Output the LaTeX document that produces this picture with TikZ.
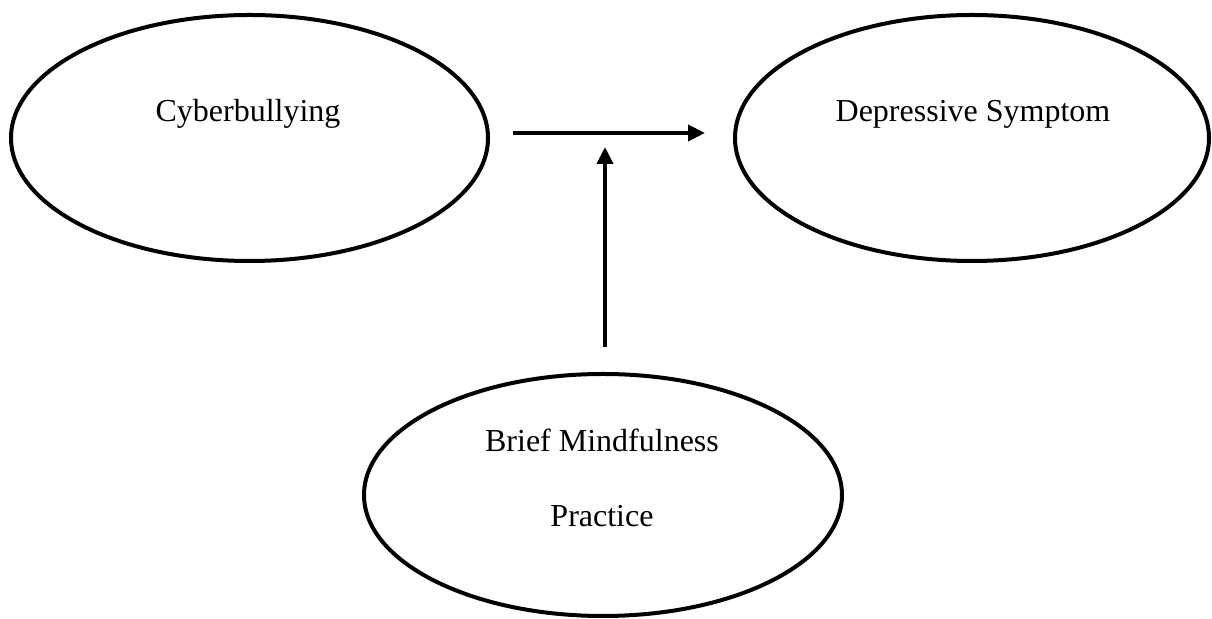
\documentclass[tikz,border=0pt]{standalone}
\usepackage{fontspec}
\setmainfont{Liberation Serif}
\usetikzlibrary{shapes.geometric,arrows.meta}
\begin{document}
\begin{tikzpicture}[x=0.5pt,y=-0.5pt,
  oval/.style={ellipse,draw,line width=2pt,inner sep=0pt},
  lbl/.style={anchor=base,font=\fontsize{16}{19}\selectfont},
  conn/.style={line width=2pt,-{Triangle[length=8.5pt,width=8pt]}}]
\useasboundingbox (0,0) rectangle (1212,619);
\node[oval,minimum width=477*0.5pt,minimum height=246*0.5pt] (cb) at (249.5,138) {};
\node[oval,minimum width=474*0.5pt,minimum height=246*0.5pt] (ds) at (972,138) {};
\node[oval,minimum width=478*0.5pt,minimum height=242*0.5pt] (bm) at (603,495) {};
\node[lbl] (cbt) at (248,122) {Cyberbullying};
\node[lbl] (dst) at (973,122) {Depressive Symptom};
\node[lbl] (bmt1) at (602,452) {Brief Mindfulness};
\node[lbl] (bmt2) at (602,527) {Practice};
\coordinate (hs) at (513,133);
\coordinate (he) at (705,133);
\coordinate (vs) at (605,347);
\coordinate (ve) at (605,147);
\draw[conn] (hs) -- (he);
\draw[conn] (vs) -- (ve);
\end{tikzpicture}
\end{document}
